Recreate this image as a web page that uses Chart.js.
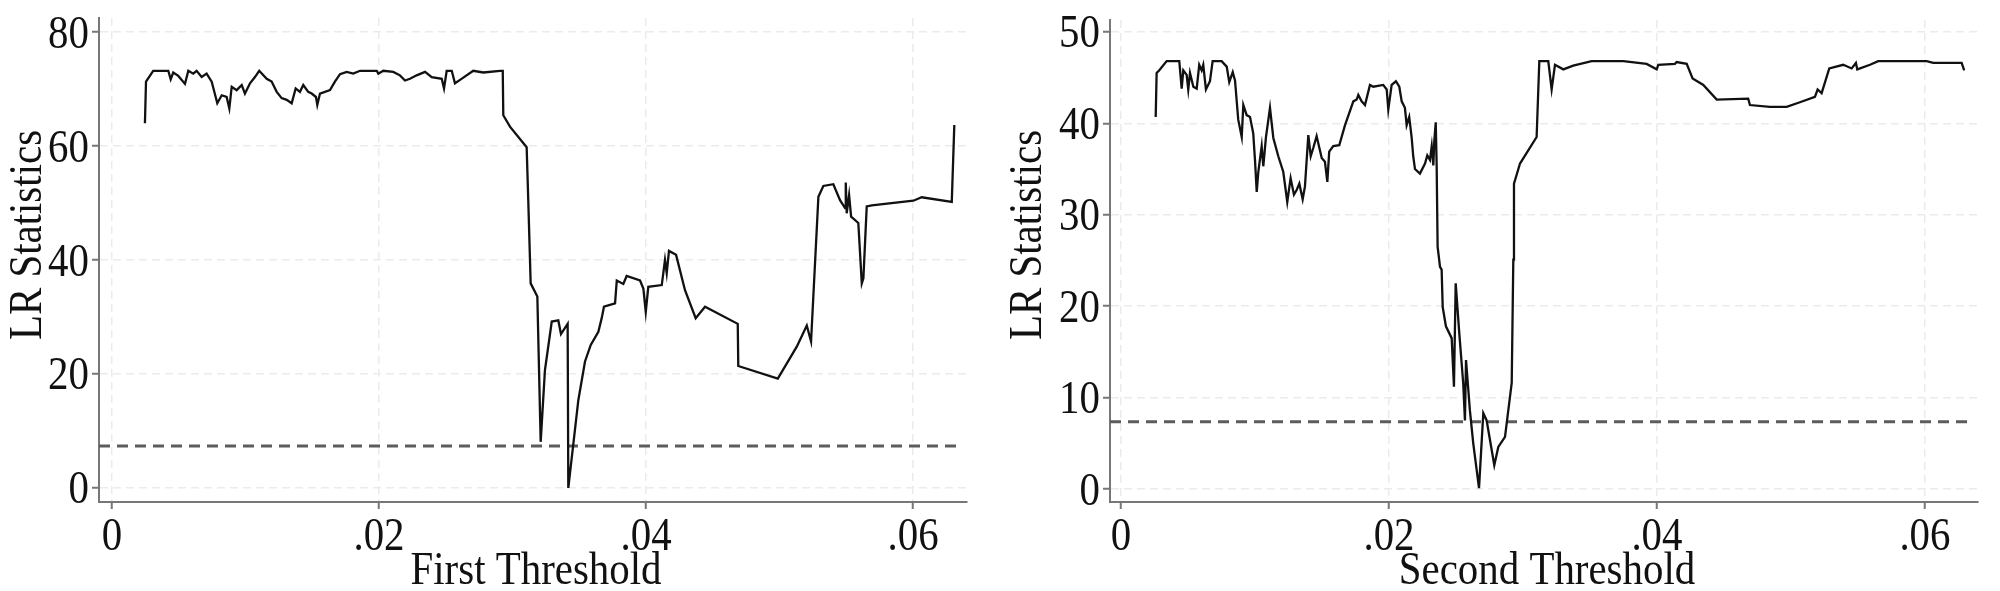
<!DOCTYPE html>
<html>
<head>
<meta charset="utf-8">
<script src="https://cdn.jsdelivr.net/npm/chart.js@4.4.1/dist/chart.umd.min.js"></script>
<style>
  html, body { margin: 0; padding: 0; background: #fff; }
  .panel { position: absolute; top: 0; width: 1000px; height: 591px; }
</style>
</head>
<body>
<div class="panel" style="left:0"><canvas id="first" width="1000" height="591"></canvas></div>
<div class="panel" style="left:1000px"><canvas id="second" width="1000" height="591"></canvas></div>
<script>
// 5% critical value of the LR statistic
const criticalValue = 7.35

const xTickValues = [0, 0.02, 0.04, 0.06]
const xTickLabels = ['0', '.02', '.04', '.06']
const firstYTicks = [0, 20, 40, 60, 80]
const secondYTicks = [0, 10, 20, 30, 40, 50]

const firstGamma = [
  0.00247, 0.00255, 0.00309, 0.00422, 0.00440, 0.00459, 0.00497, 0.00547, 0.00572, 0.00609,
  0.00634, 0.00672, 0.00709, 0.00747, 0.00789, 0.00822, 0.00859, 0.00879, 0.00897, 0.00934,
  0.00972, 0.00996, 0.01034, 0.01071, 0.01103, 0.01159, 0.01196, 0.01234, 0.01271, 0.01309,
  0.01346, 0.01376, 0.01408, 0.01433, 0.01470, 0.01496, 0.01528, 0.01538, 0.01558, 0.01633,
  0.01670, 0.01708, 0.01758, 0.01807, 0.01858, 0.01983, 0.01995, 0.02032, 0.02107, 0.02157,
  0.02195, 0.02232, 0.02282, 0.02345, 0.02395, 0.02470, 0.02487, 0.02507, 0.02545, 0.02569,
  0.02607, 0.02706, 0.02781, 0.02906, 0.02927, 0.02931, 0.02981, 0.03106, 0.03118, 0.03136,
  0.03186, 0.03211, 0.03243, 0.03294, 0.03343, 0.03363, 0.03413, 0.03418, 0.03493, 0.03543,
  0.03586, 0.03643, 0.03668, 0.03685, 0.03768, 0.03781, 0.03830, 0.03855, 0.03955, 0.03980,
  0.03998, 0.04017, 0.04118, 0.04142, 0.04155, 0.04172, 0.04225, 0.04292, 0.04372, 0.04442,
  0.04687, 0.04691, 0.04987, 0.05129, 0.05204, 0.05236, 0.05291, 0.05328, 0.05403, 0.05453,
  0.05491, 0.05496, 0.05503, 0.05521, 0.05536, 0.05590, 0.05616, 0.05628, 0.05653, 0.05691,
  0.06002, 0.06065, 0.06290, 0.06309
]
const firstLR = [
  64.0, 71.3, 73.2, 73.2, 71.7, 72.9, 72.3, 70.9, 73.2, 72.7,
  73.2, 72.1, 72.7, 71.3, 67.5, 68.9, 68.6, 66.6, 70.4, 69.8,
  70.7, 69.2, 71.0, 72.1, 73.2, 71.8, 71.3, 69.5, 68.4, 68.1,
  67.5, 70.1, 69.5, 70.7, 69.5, 69.2, 68.6, 67.2, 69.2, 69.8,
  71.3, 72.6, 73.0, 72.7, 73.2, 73.2, 72.7, 73.2, 73.0, 72.4,
  71.5, 71.8, 72.4, 73.0, 72.1, 71.8, 70.1, 73.2, 73.2, 71.0,
  71.6, 73.2, 72.9, 73.2, 73.2, 65.4, 63.4, 59.8, 50.5, 35.9,
  33.6, 8.1, 20.7, 29.2, 29.4, 27.0, 28.8, 0.0, 15.4, 22.2,
  25.1, 27.4, 29.8, 31.8, 32.4, 36.4, 35.8, 37.2, 36.4, 35.0,
  30.9, 35.3, 35.6, 40.0, 37.7, 41.6, 40.9, 34.7, 29.8, 31.8,
  28.8, 21.4, 19.2, 24.8, 28.5, 25.7, 51.1, 53.0, 53.3, 50.5,
  49.1, 53.6, 48.2, 51.4, 47.6, 46.5, 35.9, 36.8, 49.4, 49.6,
  50.4, 51.0, 50.2, 63.7
]

const secondGamma = [
  0.00259, 0.00266, 0.00286, 0.00341, 0.00435, 0.00453, 0.00465, 0.00490, 0.00502, 0.00515,
  0.00540, 0.00565, 0.00584, 0.00602, 0.00614, 0.00634, 0.00664, 0.00684, 0.00751, 0.00789,
  0.00808, 0.00834, 0.00851, 0.00875, 0.00901, 0.00913, 0.00938, 0.00963, 0.00987, 0.01000,
  0.01013, 0.01025, 0.01050, 0.01062, 0.01082, 0.01112, 0.01137, 0.01174, 0.01211, 0.01241,
  0.01266, 0.01291, 0.01311, 0.01331, 0.01356, 0.01373, 0.01398, 0.01416, 0.01435, 0.01460,
  0.01498, 0.01522, 0.01540, 0.01554, 0.01584, 0.01629, 0.01672, 0.01734, 0.01759, 0.01771,
  0.01796, 0.01821, 0.01858, 0.01883, 0.01957, 0.01983, 0.01995, 0.02020, 0.02052, 0.02077,
  0.02095, 0.02119, 0.02132, 0.02151, 0.02169, 0.02181, 0.02194, 0.02231, 0.02269, 0.02286,
  0.02306, 0.02319, 0.02331, 0.02338, 0.02349, 0.02356, 0.02363, 0.02381, 0.02393, 0.02401,
  0.02425, 0.02468, 0.02485, 0.02498, 0.02525, 0.02554, 0.02567, 0.02575, 0.02604, 0.02629,
  0.02672, 0.02704, 0.02729, 0.02786, 0.02816, 0.02866, 0.02916, 0.02928, 0.02933, 0.02978,
  0.03102, 0.03122, 0.03189, 0.03214, 0.03239, 0.03301, 0.03375, 0.03513, 0.03749, 0.03923,
  0.03998, 0.04010, 0.04134, 0.04147, 0.04222, 0.04266, 0.04346, 0.04446, 0.04681, 0.04694,
  0.04843, 0.04968, 0.05067, 0.05179, 0.05199, 0.05229, 0.05286, 0.05390, 0.05453, 0.05485,
  0.05495, 0.05590, 0.05651, 0.06013, 0.06062, 0.06274, 0.06293
]
const secondLR = [
  40.7, 45.5, 45.8, 46.8, 46.8, 43.8, 45.8, 45.3, 43.7, 45.5,
  44.0, 43.8, 46.4, 45.8, 46.4, 43.7, 44.6, 46.8, 46.8, 46.2,
  44.5, 45.6, 44.7, 40.4, 38.5, 42.0, 40.9, 40.7, 38.9, 36.0,
  32.5, 34.7, 37.5, 35.3, 38.5, 41.7, 38.4, 36.4, 34.7, 31.4,
  34.0, 32.2, 32.7, 33.4, 31.7, 33.1, 38.7, 36.4, 37.3, 38.6,
  36.2, 35.8, 33.6, 36.9, 37.5, 37.6, 39.8, 42.4, 42.6, 43.1,
  42.4, 42.0, 44.2, 44.0, 44.2, 43.7, 41.5, 44.2, 44.6, 44.0,
  42.4, 41.7, 39.8, 40.7, 38.5, 36.4, 35.0, 34.5, 35.6, 36.5,
  36.0, 37.5, 35.4, 38.0, 40.1, 35.3, 26.5, 24.3, 24.0, 19.9,
  17.8, 16.5, 11.2, 22.5, 17.0, 11.6, 7.5, 14.1, 8.6, 5.0,
  0.1, 8.3, 7.5, 2.6, 4.6, 5.7, 11.6, 25.1, 33.4, 35.6,
  38.5, 46.8, 46.8, 43.7, 46.4, 45.9, 46.3, 46.8, 46.8, 46.5,
  45.9, 46.4, 46.5, 46.7, 46.5, 44.9, 44.2, 42.6, 42.7, 42.0,
  41.8, 41.8, 42.3, 42.9, 43.7, 43.3, 46.0, 46.4, 46.0, 46.6,
  45.9, 46.4, 46.8, 46.8, 46.6, 46.6, 45.8
]

const SQUEEZE = 0.87
const FONT = '47px "Liberation Serif", "Times New Roman", serif'
const AXIS_GRAY = '#777777'
const GRID_GRAY = '#ebebeb'

// Stata-like narrow serif text
function squeezedText(ctx, text, x, y, align, rotate) {
  ctx.save()
  ctx.translate(x, y)
  if (rotate) ctx.rotate(-Math.PI / 2)
  ctx.scale(SQUEEZE, 1)
  ctx.textAlign = align
  ctx.textBaseline = 'alphabetic'
  ctx.fillText(text, 0, 0)
  ctx.restore()
}

const stataText = {
  id: 'stataText',
  afterDraw(chart, args, opts) {
    const { ctx, chartArea, scales: { x, y } } = chart
    ctx.save()
    ctx.font = FONT
    ctx.fillStyle = '#111111'
    y.ticks.forEach((t) => {
      squeezedText(ctx, String(t.value), chartArea.left - 10, y.getPixelForValue(t.value) + 15.5, 'right')
    })
    x.ticks.forEach((t, i) => {
      squeezedText(ctx, xTickLabels[i], x.getPixelForValue(t.value), chartArea.bottom + 48, 'center')
    })
    squeezedText(ctx, opts.xTitle, (chartArea.left + chartArea.right) / 2 + 3, chartArea.bottom + 82, 'center')
    squeezedText(ctx, opts.yTitle, 41, 235, 'center', true)
    ctx.restore()
  },
}

function axisStyle(extra) {
  return Object.assign({
    type: 'linear',
    ticks: { display: false },
    grid: { color: GRID_GRAY, lineWidth: 1.5, drawTicks: true, tickLength: 7, tickColor: AXIS_GRAY, tickWidth: 2 },
    border: { display: true, color: AXIS_GRAY, width: 2, dash: [8, 5] },
  }, extra)
}

function makeChart(id, gamma, lr, yTicks, xRange, yRange, critEnd, padding, yWidth, xTitle) {
  return new Chart(document.getElementById(id), {
    type: 'line',
    data: {
      datasets: [
        {
          data: gamma.map((g, i) => ({ x: g, y: lr[i] })),
          borderColor: '#111111',
          borderWidth: 2.3,
          pointRadius: 0,
          tension: 0,
        },
        {
          data: [{ x: xRange[0], y: criticalValue }, { x: critEnd, y: criticalValue }],
          borderColor: '#5c5c5c',
          borderWidth: 3,
          borderDash: [11, 7],
          pointRadius: 0,
        },
      ],
    },
    options: {
      responsive: false,
      animation: false,
      devicePixelRatio: 1,
      layout: { padding },
      plugins: {
        legend: { display: false },
        tooltip: { enabled: false },
        stataText: { xTitle, yTitle: 'LR Statistics' },
      },
      scales: {
        x: axisStyle({
          min: xRange[0],
          max: xRange[1],
          afterBuildTicks: (s) => { s.ticks = xTickValues.map((v) => ({ value: v })) },
          afterFit: (s) => { s.height = 89 },
        }),
        y: axisStyle({
          min: yRange[0],
          max: yRange[1],
          afterBuildTicks: (s) => { s.ticks = yTicks.map((v) => ({ value: v })) },
          afterFit: (s) => { s.width = yWidth },
        }),
      },
    },
    plugins: [stataText],
  })
}

makeChart('first', firstGamma, firstLR, firstYTicks,
  [-0.00097, 0.06404], [-2.46, 82.46], 0.0637,
  { top: 18, right: 33, bottom: 0, left: 0 }, 99, 'First Threshold')

makeChart('second', secondGamma, secondLR, secondYTicks,
  [-0.00082, 0.06396], [-1.42, 51.3], 0.0635,
  { top: 20, right: 22, bottom: 0, left: 0 }, 110, 'Second Threshold')
</script>
</body>
</html>
